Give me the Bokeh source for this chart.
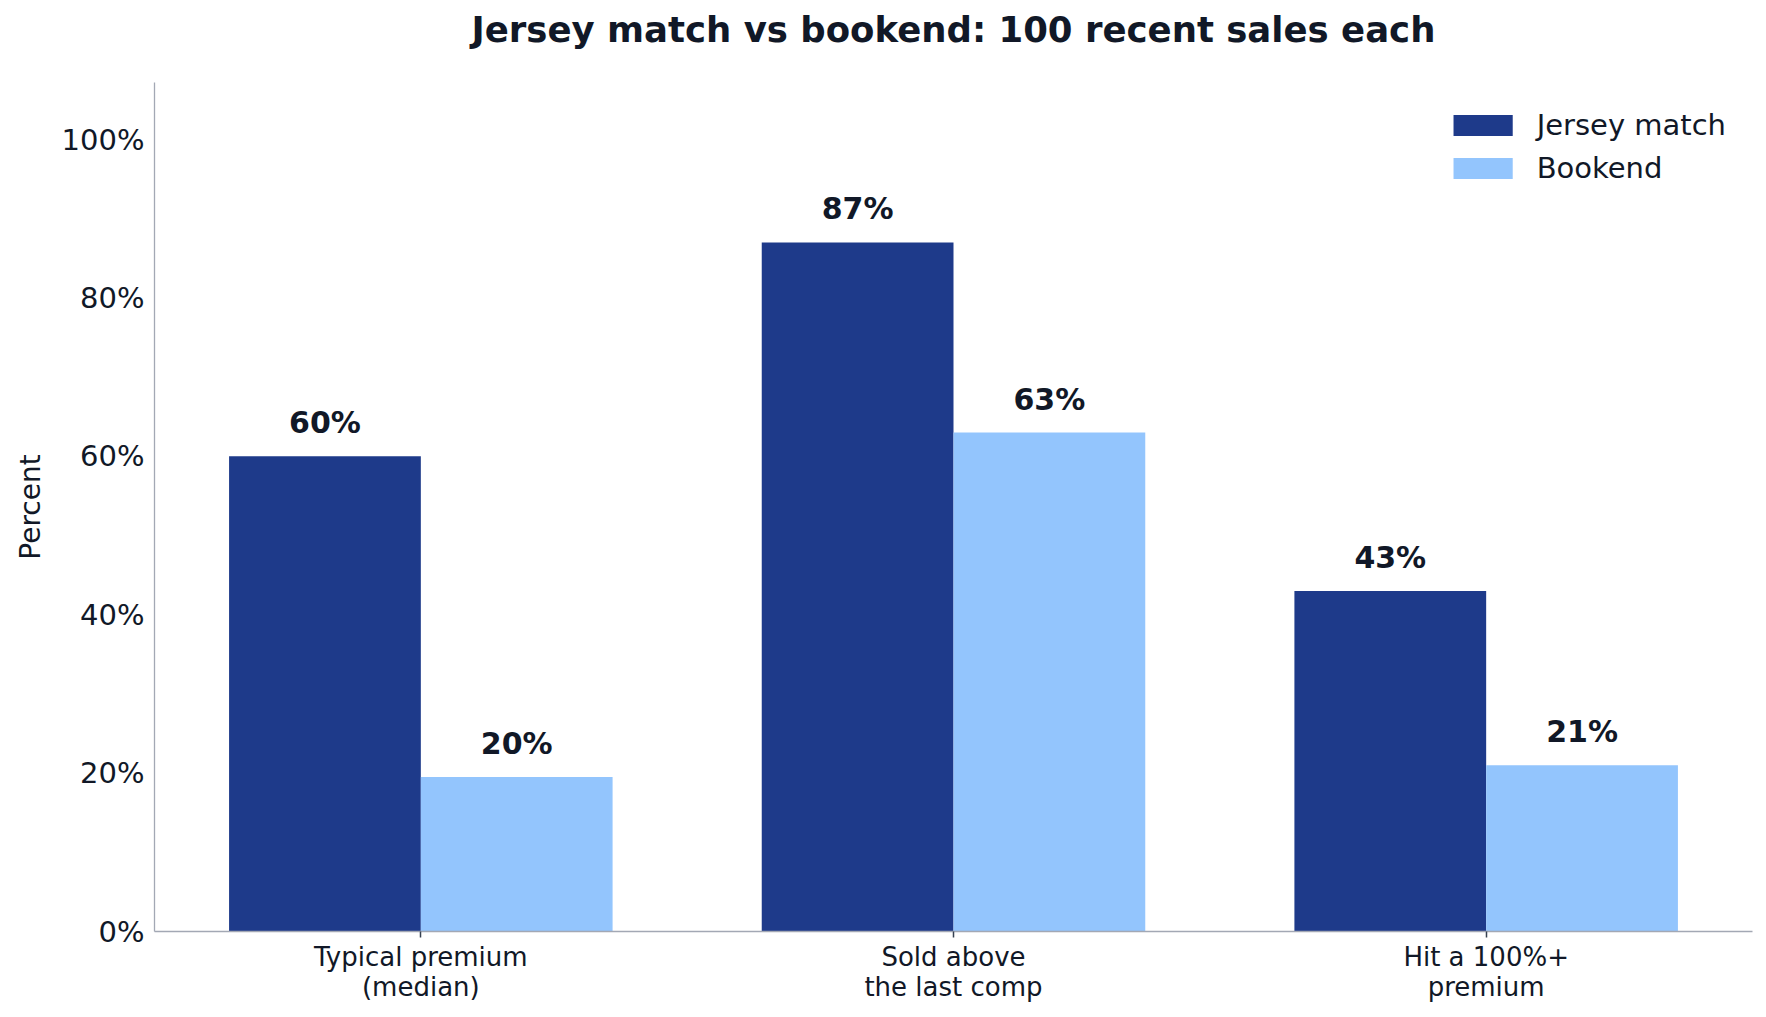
from bokeh.core.properties import value
from bokeh.models import ColumnDataSource, FixedTicker, LabelSet, Legend, LegendItem, LinearAxis, Range1d
from bokeh.plotting import figure
from bokeh.embed import file_html
from bokeh.resources import INLINE

categories = ["Typical premium\n(median)", "Sold above\nthe last comp", "Hit a 100%+\npremium"]
jersey_match = [60, 87, 43]
bookend = [19.5, 63, 21]
series_names = ["Jersey match", "Bookend"]
y_ticks = [0, 20, 40, 60, 80, 100]
y_tick_labels = ["0%", "20%", "40%", "60%", "80%", "100%"]
title_text = "Jersey match vs bookend: 100 recent sales each"

DARK = "#1e3a8a"
LIGHT = "#93c5fd"
INK = "#111827"
AXIS = "#a3a8b4"
FONT = "DejaVu Sans"
BAR_W = 0.36

positions = list(range(len(categories)))

p = figure(width=1758, height=1009, output_backend="svg", toolbar_location=None,
           x_range=Range1d(-0.5, 2.5), y_range=Range1d(0, 107.2),
           min_border_left=154, min_border_right=6, min_border_top=82, min_border_bottom=78)

p.outline_line_color = None
p.xgrid.grid_line_color = None
p.ygrid.grid_line_color = None

# title: carried by a bare axis above the frame so it sits higher than a Title panel allows
top = LinearAxis(ticker=FixedTicker(ticks=[]), axis_label=title_text)
top.axis_line_color = None
top.major_tick_line_color = None
top.minor_tick_line_color = None
top.axis_label_standoff = 33
top.axis_label_text_font = FONT
top.axis_label_text_font_size = "35.5px"
top.axis_label_text_font_style = "bold"
top.axis_label_text_color = INK
p.add_layout(top, "above")

# bars
src = ColumnDataSource(dict(
    x=positions,
    xj=[x - BAR_W / 2 for x in positions],
    xb=[x + BAR_W / 2 for x in positions],
    jersey=jersey_match,
    bookend=bookend,
    jlab=["{:.0f}%".format(v) for v in jersey_match],
    blab=["{:.0f}%".format(v) for v in bookend],
))
rj = p.vbar(x="xj", top="jersey", bottom=0, width=BAR_W, source=src, fill_color=DARK, line_color=None)
rb = p.vbar(x="xb", top="bookend", bottom=0, width=BAR_W, source=src, fill_color=LIGHT, line_color=None)

# value labels above each bar
for xcol, ycol, tcol in [("xj", "jersey", "jlab"), ("xb", "bookend", "blab")]:
    labels = LabelSet(x=xcol, y=ycol, text=tcol, source=src, y_offset=23,
                      text_align="center", text_baseline="alphabetic",
                      text_font=value(FONT), text_font_size="30px", text_font_style="bold", text_color=INK)
    p.add_layout(labels)

# x axis
xa = p.below[0]
xa.ticker = FixedTicker(ticks=positions)
xa.major_label_overrides = {i: c for i, c in enumerate(categories)}
xa.minor_tick_line_color = None
xa.major_tick_in = 0
xa.major_tick_out = 6
xa.major_tick_line_color = "#374151"
xa.major_tick_line_width = 1.5
xa.axis_line_color = AXIS
xa.axis_line_width = 1.6
xa.major_label_standoff = 4
xa.major_label_text_font = FONT
xa.major_label_text_font_size = "26px"
xa.major_label_text_color = INK
xa.major_label_text_line_height = 1.0

# y axis
ya = p.yaxis[0]
ya.ticker = FixedTicker(ticks=y_ticks)
ya.major_label_overrides = {t: l for t, l in zip(y_ticks, y_tick_labels)}
ya.minor_tick_line_color = None
ya.major_tick_in = 0
ya.major_tick_out = 0
ya.axis_line_color = AXIS
ya.axis_line_width = 1.3
ya.major_label_standoff = 10
ya.major_label_text_font = FONT
ya.major_label_text_font_size = "29px"
ya.major_label_text_color = INK
ya.axis_label = "Percent"
ya.axis_label_text_font = FONT
ya.axis_label_text_font_size = "28px"
ya.axis_label_text_font_style = "normal"
ya.axis_label_text_color = INK
ya.axis_label_standoff = 12

legend = Legend(items=[LegendItem(label=series_names[0], renderers=[rj]),
                       LegendItem(label=series_names[1], renderers=[rb])],
                location="top_right", border_line_color=None, background_fill_alpha=0,
                glyph_width=74, glyph_height=26, label_standoff=17, spacing=9,
                margin=26, padding=9,
                label_text_font=FONT, label_text_font_size="29px", label_text_color=INK)
p.add_layout(legend)

open("out.html", "w").write(file_html(p, INLINE))
